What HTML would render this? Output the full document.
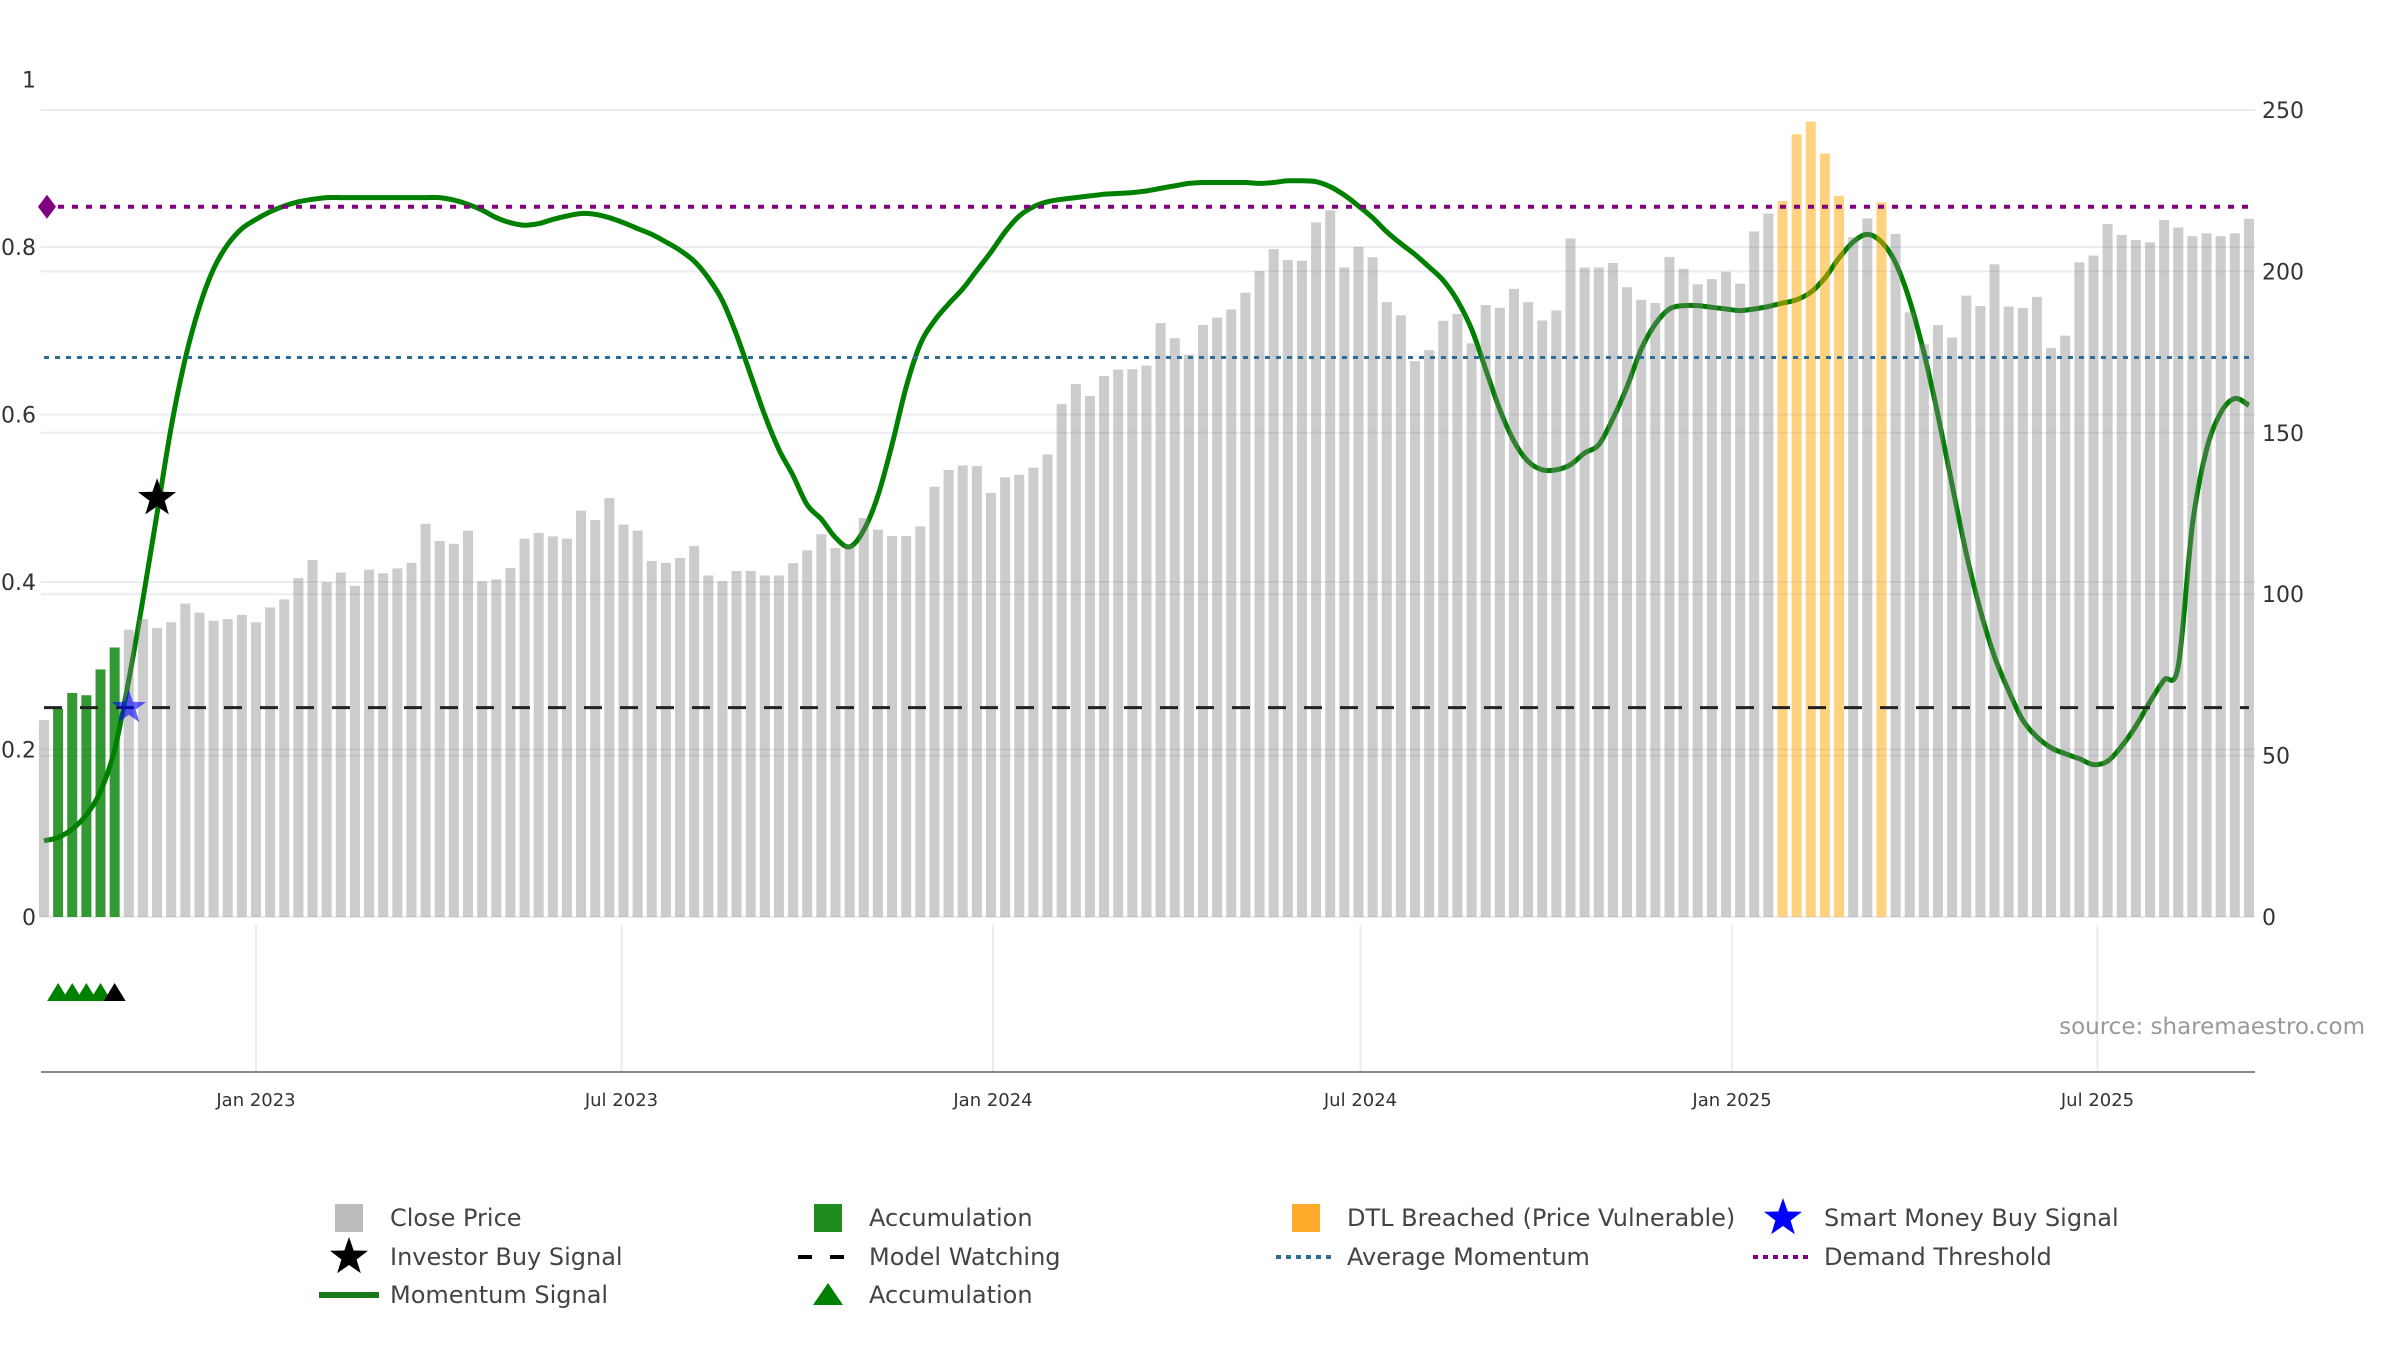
<!DOCTYPE html>
<html><head><meta charset="utf-8">
<style>
html,body{margin:0;padding:0;background:#fff;}
svg{display:block;font-family:"DejaVu Sans","Liberation Sans",sans-serif;}
</style></head>
<body>
<svg id="chart" width="2400" height="1350" viewBox="0 0 2400 1350" xmlns="http://www.w3.org/2000/svg">
<g id="grid"></g>
<g id="lower"></g>
<g id="line"></g>
<g id="bars"></g>
<g id="refs"></g>
<g id="marks"></g>
<g id="axes"></g>
<text x="2365" y="1034" text-anchor="end" font-size="23" fill="#999">source: sharemaestro.com</text>
<g id="legend"></g>
</svg>
<script>
const prices = [61,64.5,69.4,68.7,76.7,83.5,89,92.3,89.5,91.3,97.1,94.3,91.8,92.3,93.6,91.3,95.9,98.4,105,110.6,103.7,106.7,102.6,107.6,106.5,108,109.7,121.8,116.5,115.6,119.7,104,104.6,108.1,117.2,119,117.9,117.2,125.9,123,129.8,121.6,119.7,110.3,109.7,111.2,114.9,105.8,104,107.2,107.2,105.8,105.8,109.6,113.6,118.6,114.3,115.4,123.6,120,118,118,121,133.3,138.5,139.9,139.7,131.4,136.2,137,139.2,143.3,158.9,165.1,161.4,167.6,169.6,169.7,170.8,184,179.3,174.2,183.4,185.7,188.2,193.4,200.1,206.9,203.5,203.3,215.2,218.9,201.2,207.6,204.4,190.5,186.4,172.2,175.6,184.7,186.8,177.7,189.6,188.7,194.6,190.5,184.8,187.9,210.2,201.2,201.2,202.6,195.1,191.2,190.2,204.5,200.8,196,197.6,199.9,196.2,212.4,217.9,221.8,242.5,246.4,236.5,223.4,210.6,216.4,221.4,211.6,187.3,177.4,183.4,179.5,192.5,189.3,202.2,189.1,188.7,192.1,176.3,180.1,202.8,204.9,214.7,211.3,209.7,209,215.9,213.6,210.9,211.8,210.9,211.8,216.3];
const momentum = [0.091,0.095,0.105,0.122,0.15,0.2,0.283,0.379,0.482,0.585,0.667,0.729,0.774,0.803,0.822,0.833,0.842,0.849,0.854,0.857,0.859,0.859,0.859,0.859,0.859,0.859,0.859,0.859,0.859,0.856,0.851,0.844,0.835,0.829,0.826,0.828,0.833,0.837,0.84,0.839,0.835,0.829,0.822,0.815,0.806,0.796,0.783,0.763,0.736,0.695,0.647,0.599,0.558,0.527,0.492,0.475,0.453,0.442,0.462,0.503,0.564,0.633,0.684,0.712,0.732,0.75,0.772,0.794,0.818,0.837,0.848,0.854,0.857,0.859,0.861,0.863,0.864,0.865,0.867,0.87,0.873,0.876,0.877,0.877,0.877,0.877,0.876,0.877,0.879,0.879,0.878,0.872,0.862,0.849,0.835,0.818,0.804,0.791,0.776,0.76,0.736,0.702,0.654,0.606,0.568,0.544,0.534,0.534,0.54,0.554,0.564,0.595,0.633,0.678,0.708,0.726,0.73,0.73,0.728,0.726,0.724,0.726,0.729,0.733,0.737,0.746,0.763,0.787,0.806,0.815,0.806,0.781,0.736,0.674,0.599,0.516,0.434,0.366,0.311,0.27,0.235,0.215,0.202,0.195,0.189,0.182,0.186,0.204,0.228,0.257,0.283,0.3,0.468,0.558,0.602,0.619,0.611];
const accumIdx = [1,2,3,4,5];
const dtlIdx = [123,124,125,126,127,130];
const triGreenIdx = [1,2,3,4];
const triBlackIdx = [5];
const investorIdx = [8];
const investorVal = [0.5];
const smartIdx = [6];
const smartVal = [0.25];
const demandThreshold = 0.848;
const avgMomentum = 0.668;
const modelWatching = 0.25;
const leftTicks = [0,0.2,0.4,0.6,0.8,1];
const leftTickLabels = ["0","0.2","0.4","0.6","0.8","1"];
const rightTicks = [0,50,100,150,200,250];
const dateTicks = ["2023-01-01","2023-07-01","2024-01-01","2024-07-01","2025-01-01","2025-07-01"];
const dateTickLabels = ["Jan 2023","Jul 2023","Jan 2024","Jul 2024","Jan 2025","Jul 2025"];
const firstDate = "2022-09-18";

const NS="http://www.w3.org/2000/svg";
function mk(tag, attrs, parent){const e=document.createElementNS(NS,tag);for(const k in attrs)e.setAttribute(k,attrs[k]);parent.appendChild(e);return e;}
const base=Date.UTC(2023,0,1);
function dayOf(s){const p=s.split('-');return (Date.UTC(+p[0],+p[1]-1,+p[2])-base)/86400000;}
function xDay(d){return 256+d*2.0192;}
const d0=dayOf(firstDate);
function xi(i){return xDay(d0+7*i);}
function yL(v){return 917-v*837.5;}
function yR(v){return 917-v*3.228;}
const X0=41,X1=2255;

const grid=document.getElementById('grid');
leftTicks.forEach((t,k)=>{if(t>=1)return;const l=mk('line',{x1:X0,x2:X1,y1:yL(t),y2:yL(t),stroke:'#ebebf2','stroke-width':2},grid);
});
rightTicks.forEach(t=>{const l=mk('line',{x1:X0,x2:X1,y1:yR(t),y2:yR(t),stroke:'#ebebf2','stroke-width':2},grid);
});

const lower=document.getElementById('lower');
dateTicks.forEach(s=>{const x=xDay(dayOf(s));const l=mk('line',{x1:x,x2:x,y1:925,y2:1071,stroke:'#ebebf2','stroke-width':2},lower);
});

const lineG=document.getElementById('line');
const pts=momentum.map((v,i)=>[xi(i),yL(v)]);
let d='M'+pts[0][0]+','+pts[0][1];
for(let i=0;i<pts.length-1;i++){const p0=pts[Math.max(0,i-1)],p1=pts[i],p2=pts[i+1],p3=pts[Math.min(pts.length-1,i+2)];
const c1=[p1[0]+(p2[0]-p0[0])/6,p1[1]+(p2[1]-p0[1])/6],c2=[p2[0]-(p3[0]-p1[0])/6,p2[1]-(p3[1]-p1[1])/6];
d+=` C${c1[0].toFixed(1)},${c1[1].toFixed(1)} ${c2[0].toFixed(1)},${c2[1].toFixed(1)} ${p2[0].toFixed(1)},${p2[1].toFixed(1)}`;}
const ml=mk('path',{d:d,fill:'none',stroke:'#008000','stroke-width':5,'stroke-linejoin':'round'},lineG);


const barsG=document.getElementById('bars');
prices.forEach((p,i)=>{let fill='#808080',op=0.4,name='price-bar';
if(accumIdx.includes(i)){fill='#008000';op=0.8;name='accumulation-bar';}
else if(dtlIdx.includes(i)){fill='#ffa500';op=0.5;name='dtl-breached-bar';}
const r=mk('rect',{x:xi(i)-5,y:yR(p),width:10,height:yR(0)-yR(p),fill:fill,'fill-opacity':op},barsG);
});

const refs=document.getElementById('refs');
const xs=xi(0),xe=xi(prices.length-1);
let r1=mk('line',{x1:xs,x2:xe,y1:yL(modelWatching),y2:yL(modelWatching),stroke:'#222','stroke-width':3,'stroke-dasharray':'18,18'},refs);

let r2=mk('line',{x1:xs,x2:xe,y1:yL(avgMomentum),y2:yL(avgMomentum),stroke:'#2d6e96','stroke-width':3,'stroke-dasharray':'5,6'},refs);

let r3=mk('line',{x1:xs,x2:xe,y1:yL(demandThreshold),y2:yL(demandThreshold),stroke:'#800080','stroke-width':4,'stroke-dasharray':'6,8'},refs);


function starPath(cx,cy,R){const r=R*0.4;let s='';for(let k=0;k<10;k++){const a=-Math.PI/2+k*Math.PI/5;const rr=k%2?r:R;s+=(k?'L':'M')+(cx+rr*Math.cos(a)).toFixed(1)+','+(cy+rr*Math.sin(a)).toFixed(1);}return s+'Z';}
const marks=document.getElementById('marks');
const dia=yL(demandThreshold);
let dm=mk('path',{d:`M${xs-6},${dia} L${xs+3},${dia-12} L${xs+12},${dia} L${xs+3},${dia+12}Z`,fill:'#800080'},marks);

investorIdx.forEach((i,k)=>{const s=mk('path',{d:starPath(xi(i),yL(investorVal[k]),20),fill:'#000'},marks);
});
smartIdx.forEach((i,k)=>{const s=mk('path',{d:starPath(xi(i),yL(smartVal[k]),18),fill:'#0000ff','fill-opacity':0.6},marks);
});
function tri(x,y,c,name){const t=mk('path',{d:`M${x-11},${y+9} L${x},${y-9} L${x+11},${y+9}Z`,fill:c},marks);
}
triGreenIdx.forEach(i=>tri(xi(i),992,'#008000','accumulation-triangle'));
triBlackIdx.forEach(i=>tri(xi(i),992,'#000','black-triangle'));

const axes=document.getElementById('axes');
let ax=mk('line',{x1:X0,x2:X1,y1:1072,y2:1072,stroke:'#888','stroke-width':2},axes);

leftTicks.forEach((t,k)=>{const tx=mk('text',{x:36,y:yL(t)+8,'text-anchor':'end','font-size':22,fill:'#333'},axes);tx.textContent=leftTickLabels[k];
});
rightTicks.forEach(t=>{const tx=mk('text',{x:2262,y:yR(t)+8,'font-size':22,fill:'#333'},axes);tx.textContent=String(t);
});
dateTicks.forEach((s,k)=>{const tx=mk('text',{x:xDay(dayOf(s)),y:1106,'text-anchor':'middle','font-size':18,fill:'#333'},axes);tx.textContent=dateTickLabels[k];
});

const lg=document.getElementById('legend');
const items=[
 [349,1218,'sq','#bbbbbb','Close Price'],[349,1257,'star','#000','Investor Buy Signal'],[349,1295,'line','#1a7a1a','Momentum Signal'],
 [828,1218,'sq','#1e8c1e','Accumulation'],[828,1257,'dash','#000','Model Watching'],[828,1295,'tri','#008000','Accumulation'],
 [1306,1218,'sq','#fdab2a','DTL Breached (Price Vulnerable)'],[1306,1257,'dot','#2d6e96','Average Momentum'],
 [1783,1218,'star','#0000ff','Smart Money Buy Signal'],[1783,1257,'dot','#800080','Demand Threshold']];
items.forEach(it=>{const [x,y,t,c,label]=it;const g=mk('g',{},lg);

if(t==='sq')mk('rect',{x:x-14,y:y-14,width:28,height:28,fill:c},g);
else if(t==='star')mk('path',{d:starPath(x,y,20),fill:c},g);
else if(t==='line')mk('line',{x1:x-30,x2:x+30,y1:y,y2:y,stroke:c,'stroke-width':6},g);
else if(t==='dash')mk('line',{x1:x-30,x2:x+30,y1:y,y2:y,stroke:c,'stroke-width':4,'stroke-dasharray':'14,18'},g);
else if(t==='dot')mk('line',{x1:x-30,x2:x+30,y1:y,y2:y,stroke:c,'stroke-width':4,'stroke-dasharray':'5,5'},g);
else if(t==='tri')mk('path',{d:`M${x-15},${y+10} L${x},${y-12} L${x+15},${y+10}Z`,fill:c},g);
const tx=mk('text',{x:x+41,y:y+8,'font-size':24,fill:'#444'},g);tx.textContent=label;});
</script>
</body></html>
